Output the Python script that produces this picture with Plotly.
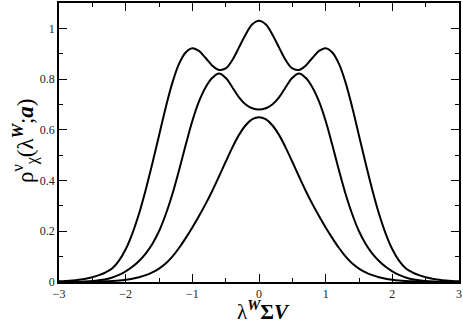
import plotly.graph_objects as go

# x grid (lambda^W Sigma V)
lam = [-3.0, -2.9, -2.8, -2.7, -2.6, -2.5, -2.4, -2.3, -2.2, -2.1,
       -2.0, -1.9, -1.8, -1.7, -1.6, -1.5, -1.4, -1.3, -1.2, -1.1,
       -1.0, -0.9, -0.8, -0.7, -0.6, -0.5, -0.4, -0.3, -0.2, -0.1,
       0.0, 0.1, 0.2, 0.3, 0.4, 0.5, 0.6, 0.7, 0.8, 0.9,
       1.0, 1.1, 1.2, 1.3, 1.4, 1.5, 1.6, 1.7, 1.8, 1.9,
       2.0, 2.1, 2.2, 2.3, 2.4, 2.5, 2.6, 2.7, 2.8, 2.9, 3.0]

# three densities
rho_top = [0.0025, 0.004, 0.006, 0.009, 0.013, 0.019, 0.027, 0.038, 0.054, 0.084,
           0.129, 0.191, 0.269, 0.363, 0.467, 0.577, 0.687, 0.785, 0.860, 0.905,
           0.922, 0.911, 0.883, 0.853, 0.836, 0.842, 0.875, 0.925, 0.976, 1.016,
           1.030, 1.016, 0.976, 0.925, 0.875, 0.842, 0.836, 0.853, 0.883, 0.911,
           0.922, 0.905, 0.860, 0.785, 0.687, 0.577, 0.467, 0.363, 0.269, 0.191,
           0.129, 0.084, 0.054, 0.038, 0.027, 0.019, 0.013, 0.009, 0.006, 0.004, 0.0025]

rho_mid = [0.0001, 0.0002, 0.0005, 0.001, 0.002, 0.0035, 0.0065, 0.011, 0.018, 0.028,
           0.042, 0.060, 0.083, 0.112, 0.150, 0.200, 0.266, 0.346, 0.440, 0.540,
           0.635, 0.712, 0.768, 0.805, 0.822, 0.805, 0.768, 0.728, 0.700, 0.685,
           0.680, 0.685, 0.700, 0.728, 0.768, 0.805, 0.822, 0.805, 0.768, 0.712,
           0.635, 0.540, 0.440, 0.346, 0.266, 0.200, 0.150, 0.112, 0.083, 0.060,
           0.042, 0.028, 0.018, 0.011, 0.0065, 0.0035, 0.002, 0.001, 0.0005, 0.0002, 0.0001]

rho_bot = [0.000, 0.0001, 0.0002, 0.0003, 0.0006, 0.001, 0.0015, 0.0025, 0.004, 0.006,
           0.009, 0.013, 0.019, 0.027, 0.038, 0.053, 0.073, 0.100, 0.134, 0.173,
           0.215, 0.260, 0.308, 0.360, 0.416, 0.474, 0.530, 0.580, 0.618, 0.642,
           0.650, 0.642, 0.618, 0.580, 0.530, 0.474, 0.416, 0.360, 0.308, 0.260,
           0.215, 0.173, 0.134, 0.100, 0.073, 0.053, 0.038, 0.027, 0.019, 0.013,
           0.009, 0.006, 0.004, 0.0025, 0.0015, 0.001, 0.0006, 0.0003, 0.0002, 0.0001, 0.000]

fig = go.Figure()
for ys in (rho_top, rho_mid, rho_bot):
    fig.add_trace(go.Scatter(x=lam, y=ys, mode="lines", line_shape="spline",
                             line=dict(color="black", width=2), showlegend=False))

axis_style = dict(showline=True, linecolor="black", linewidth=1.5, mirror="ticks",
                  ticks="inside", ticklen=8, tickwidth=1, tickcolor="black",
                  showgrid=False, zeroline=False,
                  tickfont=dict(family="Liberation Serif", size=12, color="#222"))

fig.update_xaxes(range=[-3, 3], dtick=1,
                 minor=dict(dtick=0.5, ticks="inside", ticklen=4, tickcolor="black"),
                 **axis_style)
fig.update_yaxes(range=[0, 1.1], dtick=0.2,
                 minor=dict(dtick=0.1, ticks="inside", ticklen=4, tickcolor="black"),
                 **axis_style)

fig.add_annotation(text="λ<sup><b><i>W</i></b></sup><b>Σ<i>V</i></b>",
                   xref="paper", yref="paper", x=0.512, y=-0.102,
                   showarrow=False, yanchor="middle", borderpad=0,
                   font=dict(family="Liberation Serif", size=21, color="black"))
fig.add_annotation(text="ρ<sup>ν</sup><sub>χ</sub>(λ<sup><b><i>W</i></b></sup>;<b><i>a</i></b>)",
                   xref="paper", yref="paper", x=-0.085, y=0.505, textangle=-90,
                   showarrow=False, xanchor="center", yanchor="middle",
                   font=dict(family="Liberation Serif", size=23, color="black"))

fig.update_layout(width=463, height=323, plot_bgcolor="white", paper_bgcolor="white",
                  margin=dict(l=59, r=4, t=1, b=41))

# page body has a default 8px margin; drop it so the figure sits at 0,0
fig.write_html("out.html", config={"displayModeBar": False},
               post_script="document.body.style.margin='0';")
